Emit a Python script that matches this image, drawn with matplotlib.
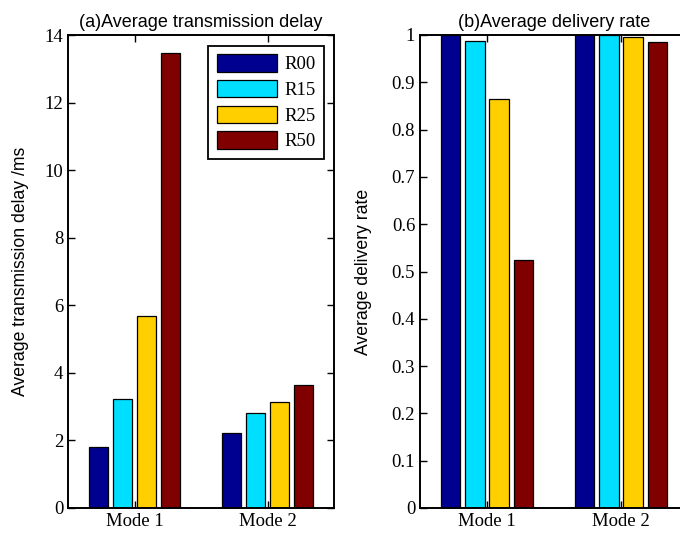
import numpy as np
import matplotlib
matplotlib.use('Agg')
import matplotlib.pyplot as plt
from matplotlib.ticker import FuncFormatter

modes = ['Mode 1', 'Mode 2']
series = ['R00', 'R15', 'R25', 'R50']

# average transmission delay (ms)
delay_r00 = [1.81, 2.21]
delay_r15 = [3.23, 2.82]
delay_r25 = [5.69, 3.15]
delay_r50 = [13.47, 3.64]

# average delivery rate
rate_r00 = [1.0, 1.0]
rate_r15 = [0.988, 1.0]
rate_r25 = [0.865, 0.996]
rate_r50 = [0.524, 0.985]

colors = ['#000090', '#00DFFF', '#FFCF00', '#800000']

serif = ['Liberation Serif', 'DejaVu Serif']
sans = ['Liberation Sans', 'DejaVu Sans']
plt.rcParams['font.family'] = serif
plt.rcParams['font.size'] = 13.5
plt.rcParams['axes.linewidth'] = 1.4


def grouped(ax, data):
    x = np.arange(1, len(modes) + 1)
    n = len(data)
    gw = min(0.8, n / (n + 1.5))
    slot = gw / n
    for i, vals in enumerate(data):
        off = -gw / 2 + slot * (i + 0.5)
        ax.bar(x + off, vals, width=slot * 0.8, color=colors[i],
               edgecolor='black', linewidth=0.9, label=series[i])
    ax.set_xlim(0.5, len(modes) + 0.5)
    ax.set_xticks(x)
    ax.set_xticklabels(modes)
    ax.tick_params(direction='in', top=True, right=True, length=5, width=1,
                   labelsize=13.5)


fig = plt.figure(figsize=(6.8, 5.35), dpi=100)

ax1 = fig.add_axes([68 / 680, 27 / 535, 266 / 680, 473 / 535])
grouped(ax1, [delay_r00, delay_r15, delay_r25, delay_r50])
ax1.set_ylim(0, 14)
ax1.set_yticks(np.arange(0, 15, 2))
ax1.set_title('(a)Average transmission delay', family=sans, fontsize=13, pad=6)
ax1.set_ylabel('Average transmission delay /ms', family=sans, fontsize=12.7,
               labelpad=11)
leg = ax1.legend(loc='upper right', bbox_to_anchor=(0.962, 0.977),
                 borderaxespad=0, fancybox=False, handlelength=3.2,
                 handleheight=1.05, labelspacing=0.35, handletextpad=0.4,
                 borderpad=0.45, fontsize=13.5)
leg.get_frame().set_edgecolor('black')
leg.get_frame().set_linewidth(1.3)
leg.get_frame().set_alpha(1)

ax2 = fig.add_axes([420 / 680, 27 / 535, 268 / 680, 473 / 535])
grouped(ax2, [rate_r00, rate_r15, rate_r25, rate_r50])
ax2.set_ylim(0, 1)
ax2.set_yticks(np.arange(0, 1.01, 0.1))
ax2.yaxis.set_major_formatter(FuncFormatter(lambda v, p: '%g' % round(v, 1)))
ax2.set_title('(b)Average delivery rate', family=sans, fontsize=13, pad=6)
ax2.set_ylabel('Average delivery rate', family=sans, fontsize=12.7, labelpad=14)

fig.savefig('out.png', dpi=100)
